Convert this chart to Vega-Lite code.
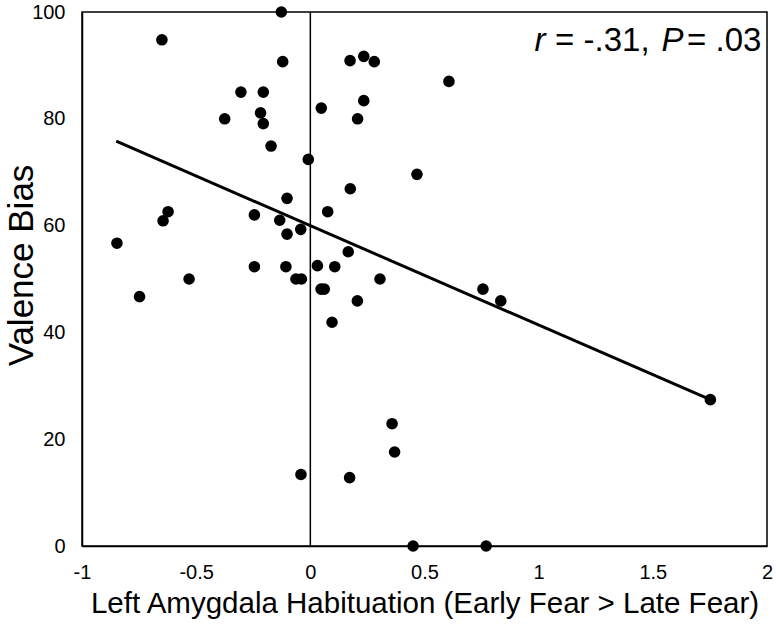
{
  "$schema": "https://vega.github.io/schema/vega-lite/v6.json",
  "width": 685,
  "height": 534,
  "autosize": {"type": "none"},
  "padding": {"left": 82, "top": 12, "right": 9, "bottom": 79},
  "background": "white",
  "config": {
    "view": {"stroke": "black", "strokeWidth": 1.5},
    "font": "Liberation Sans",
    "axis": {
      "grid": false,
      "ticks": false,
      "tickSize": 0,
      "domain": true,
      "domainColor": "black",
      "domainWidth": 1.5,
      "labelFont": "Liberation Sans",
      "labelColor": "black",
      "titleFont": "Liberation Sans",
      "titleColor": "black",
      "titleFontWeight": "normal"
    }
  },
  "datasets": {
    "points": [
      {"x": -0.127, "y": 100}, {"x": -0.650, "y": 94.8}, {"x": -0.121, "y": 90.7},
      {"x": -0.304, "y": 85.0}, {"x": -0.206, "y": 85.0}, {"x": 0.048, "y": 82.0},
      {"x": -0.375, "y": 80.0}, {"x": -0.218, "y": 81.1}, {"x": -0.206, "y": 79.1},
      {"x": -0.172, "y": 74.9}, {"x": -0.009, "y": 72.4}, {"x": 0.175, "y": 66.9},
      {"x": -0.102, "y": 65.1}, {"x": -0.623, "y": 62.6}, {"x": -0.645, "y": 60.9},
      {"x": -0.245, "y": 62.0}, {"x": 0.076, "y": 62.6}, {"x": -0.134, "y": 61.0},
      {"x": -0.042, "y": 59.3}, {"x": -0.102, "y": 58.4}, {"x": -0.847, "y": 56.7},
      {"x": 0.166, "y": 55.1}, {"x": -0.245, "y": 52.3}, {"x": -0.107, "y": 52.3},
      {"x": 0.031, "y": 52.5}, {"x": 0.107, "y": 52.3}, {"x": -0.531, "y": 50.0},
      {"x": -0.063, "y": 50.0}, {"x": -0.039, "y": 50.0}, {"x": 0.305, "y": 50.0},
      {"x": 0.047, "y": 48.1}, {"x": 0.061, "y": 48.1}, {"x": -0.748, "y": 46.7},
      {"x": 0.206, "y": 45.9}, {"x": 0.174, "y": 90.9}, {"x": 0.234, "y": 91.7},
      {"x": 0.280, "y": 90.7}, {"x": 0.607, "y": 87.0}, {"x": 0.234, "y": 83.4},
      {"x": 0.207, "y": 80.0}, {"x": 0.467, "y": 69.6}, {"x": 0.756, "y": 48.1},
      {"x": 0.834, "y": 45.9}, {"x": 0.095, "y": 41.9}, {"x": 0.358, "y": 22.9},
      {"x": 0.369, "y": 17.6}, {"x": -0.041, "y": 13.4}, {"x": 0.172, "y": 12.8},
      {"x": 1.752, "y": 27.4}, {"x": 0.450, "y": 0}, {"x": 0.770, "y": 0}
    ],
    "fit": [
      {"x": -0.85, "y": 75.8},
      {"x": 1.752, "y": 27.4}
    ],
    "zero": [
      {"x": 0, "y": 0, "y2": 100}
    ],
    "italicText": [
      {"x": 0.982, "y": 92.7, "label": "r"},
      {"x": 1.538, "y": 92.7, "label": "P"}
    ],
    "romanText": [
      {"x": 1.072, "y": 92.7, "label": "= -.31,"},
      {"x": 1.65, "y": 92.7, "label": "= .03"}
    ]
  },
  "encoding": {
    "x": {
      "field": "x",
      "type": "quantitative",
      "scale": {"domain": [-1, 2], "nice": false, "zero": false},
      "axis": {
        "title": "Left Amygdala Habituation (Early Fear > Late Fear)",
        "values": [-1, -0.5, 0, 0.5, 1, 1.5, 2],
        "labelExpr": "toString(datum.value)",
        "labelFlush": false,
        "labelOverlap": false,
        "labelFontSize": 20,
        "labelPadding": 16,
        "titleFontSize": 29.5,
        "titlePadding": 7
      }
    },
    "y": {
      "field": "y",
      "type": "quantitative",
      "scale": {"domain": [0, 100], "nice": false, "zero": false},
      "axis": {
        "title": "Valence Bias",
        "values": [0, 20, 40, 60, 80, 100],
        "labelFontSize": 20,
        "labelPadding": 17,
        "labelOverlap": false,
        "titleFontSize": 35,
        "titlePadding": -8,
        "titleY": 253
      }
    }
  },
  "layer": [
    {
      "data": {"name": "zero"},
      "mark": {"type": "rule", "color": "black", "strokeWidth": 1.5},
      "encoding": {"y2": {"field": "y2"}}
    },
    {
      "data": {"name": "fit"},
      "mark": {"type": "line", "color": "black", "strokeWidth": 3, "clip": false}
    },
    {
      "data": {"name": "points"},
      "mark": {"type": "circle", "color": "black", "opacity": 1, "size": 135, "clip": false}
    },
    {
      "data": {"name": "italicText"},
      "mark": {"type": "text", "align": "left", "baseline": "alphabetic", "fontSize": 33, "fontStyle": "italic", "color": "black", "font": "Liberation Sans"},
      "encoding": {"text": {"field": "label"}}
    },
    {
      "data": {"name": "romanText"},
      "mark": {"type": "text", "align": "left", "baseline": "alphabetic", "fontSize": 33, "color": "black", "font": "Liberation Sans"},
      "encoding": {"text": {"field": "label"}}
    }
  ]
}
